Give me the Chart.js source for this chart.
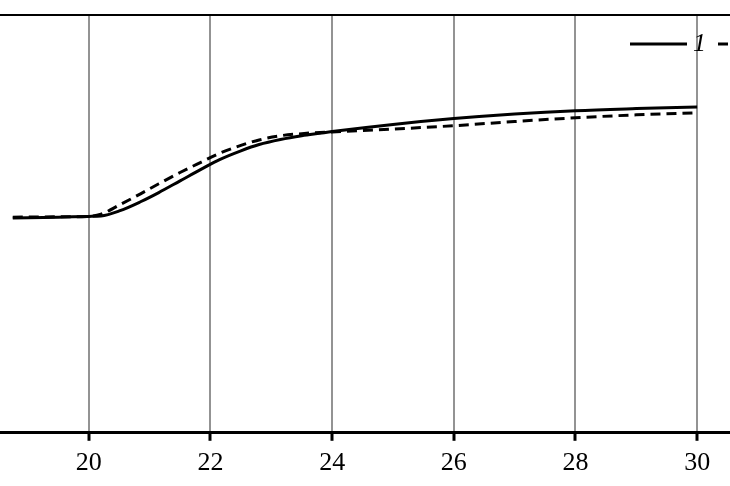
<!DOCTYPE html>
<html>
<head>
<meta charset="utf-8">
<script src="https://cdn.jsdelivr.net/npm/chart.js@4"></script>
<style>
  html, body { margin: 0; padding: 0; background: #fff; }
  #wrap { width: 730px; height: 486px; }
</style>
</head>
<body>
<div id="wrap"><canvas id="myChart"></canvas></div>
<script>
// x positions (same for both curves)
const xs = [18.75, 19.5, 20, 20.2, 20.5, 20.85, 21.15, 21.5, 21.85, 22.15, 22.5, 22.8, 23.15, 23.5, 23.8, 24, 25, 26, 27, 28, 29, 30];
// curve 1 (solid)
const curve1 = [0.514, 0.516, 0.518, 0.519, 0.531, 0.553, 0.575, 0.603, 0.631, 0.654, 0.675, 0.690, 0.702, 0.711, 0.717, 0.721, 0.738, 0.752, 0.763, 0.771, 0.776, 0.780];
// curve 2 (dashed)
const curve2 = [0.516, 0.517, 0.518, 0.523, 0.545, 0.572, 0.596, 0.623, 0.648, 0.669, 0.688, 0.701, 0.711, 0.716, 0.719, 0.720, 0.727, 0.735, 0.745, 0.754, 0.761, 0.766];
const seriesNames = ["1", "2"];
const xTicks = [20, 22, 24, 26, 28, 30];

const ds = (vals, name, dash) => ({
    label: name,
    data: xs.map((x, i) => ({ x: x, y: vals[i] })),
    borderColor: "#000",
    borderWidth: 3,
    borderDash: dash,
    pointRadius: 0,
    cubicInterpolationMode: "monotone",
    fill: false,
});

// frame line at the top and the inline legend
const extras = {
    id: "extras",
    afterDraw(chart) {
        const c = chart.ctx;
        const a = chart.chartArea;
        c.save();
        c.strokeStyle = "#000";
        c.lineWidth = 2;
        c.beginPath();
        c.moveTo(0, a.top);
        c.lineTo(chart.width, a.top);
        c.stroke();

        let lx = 630;
        const ly = 44;
        chart.data.datasets.forEach((d) => {
            c.setLineDash(d.borderDash || []);
            c.lineWidth = 3;
            c.beginPath();
            c.moveTo(lx, ly);
            c.lineTo(lx + 57, ly);
            c.stroke();
            c.setLineDash([]);
            c.fillStyle = "#000";
            c.font = "italic 26px 'Liberation Serif', serif";
            c.textBaseline = "middle";
            c.fillText(d.label, lx + 63, ly);
            lx += 88;
        });
        c.restore();
    },
};

document.addEventListener("DOMContentLoaded", function () {
    var ctx = document.getElementById("myChart").getContext("2d");

    new Chart(ctx, {
        type: "line",
        data: {
            datasets: [
                ds(curve1, seriesNames[0], []),
                ds(curve2, seriesNames[1], [10, 6]),
            ],
        },
        options: {
            responsive: true,
            maintainAspectRatio: false,
            animation: false,
            layout: { padding: { top: 15, left: 0, right: 0, bottom: 0 } },
            plugins: {
                legend: { display: false },
                tooltip: { enabled: false },
            },
            scales: {
                x: {
                    type: "linear",
                    min: 18.54,
                    max: 30.54,
                    afterBuildTicks: (scale) => {
                        scale.ticks = xTicks.map((v) => ({ value: v }));
                    },
                    grid: {
                        color: "#939393",
                        lineWidth: 2,
                        tickColor: "#000",
                        tickLength: 8,
                        tickWidth: 3,
                    },
                    border: { color: "#000", width: 3 },
                    ticks: {
                        color: "#000",
                        padding: 7,
                        maxRotation: 0,
                        font: { family: "'Liberation Serif', serif", size: 26 },
                    },
                },
                y: {
                    display: false,
                    min: 0,
                    max: 1,
                },
            },
        },
        plugins: [extras],
    });
});
</script>
</body>
</html>
